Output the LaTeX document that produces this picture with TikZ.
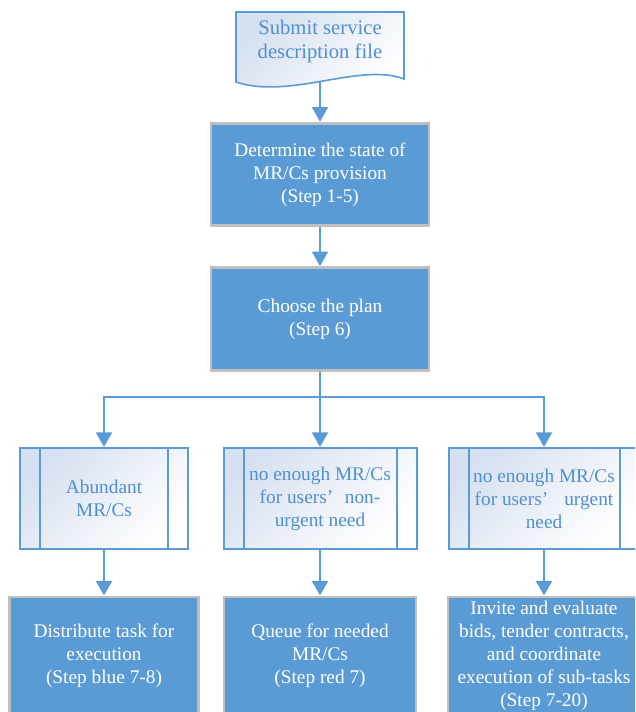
\documentclass[tikz,border=0pt]{standalone}
\usepackage{fontspec}
\setmainfont{Liberation Serif}
\usetikzlibrary{arrows.meta}
\definecolor{accent}{HTML}{5B9BD5}
\definecolor{edge}{HTML}{BFBFBF}
\definecolor{paleblue}{HTML}{D6E0F0}
\definecolor{inktext}{HTML}{4F8FCF}
\begin{document}
\begin{tikzpicture}[x=0.75pt, y=-0.75pt,
	txt/.style={font={\fontsize{14.5}{17.25}\selectfont}, align=center, inner sep=0pt},
	stepbox/.style={txt, shape=rectangle, draw=edge, line width=2.2pt, fill=accent, text=white, minimum height=77pt},
	casebox/.style={txt, shape=rectangle, draw=accent, line width=1.5pt, top color=paleblue, bottom color=white, shading angle=45, text=inktext, minimum height=75.75pt,
		path picture={\draw[accent, line width=1.5pt] ([xshift=15pt]path picture bounding box.north west) -- ([xshift=15pt]path picture bounding box.south west) ([xshift=-15pt]path picture bounding box.north east) -- ([xshift=-15pt]path picture bounding box.south east);}},
	wire/.style={accent, line width=1.5pt},
	flow/.style={wire, -{Triangle[width=12pt, length=11pt]}}]
	\useasboundingbox (0,0) rectangle (635,712);
	\clip (0,0) rectangle (635,712);
	% Paths, nodes and wires:
	\draw[accent, line width=1.2pt, top color=paleblue, bottom color=white, shading angle=45] (236,12) -- (404,12) -- (404,79) .. controls (360,62) and (290,100) .. (236,82) -- cycle;
	\node[txt, font={\fontsize{15.5}{18}\selectfont}, text=inktext] (doc) at (320,42) {Submit service\\description file};
	\coordinate (docout) at (320,81);
	\node[stepbox, minimum width=163.5pt] (state) at (320,174.5) {Determine the state of\\MR/Cs provision\\(Step 1-5)};
	\node[stepbox, minimum width=163.5pt] (plan) at (320,319) {Choose the plan\\(Step 6)};
	\coordinate (split) at (320,397);
	\node[casebox, minimum width=126pt] (abund) at (104,498.5) {Abundant\\MR/Cs};
	\node[casebox, minimum width=144.75pt] (calm) at (320,498.5) {no enough MR/Cs\\for users’\hspace{0.6em}non-\\urgent need};
	\node[casebox, minimum width=143.25pt] (rush) at (544,498.5) {no enough MR/Cs\\\makebox[104pt]{for users’\hfill urgent}\\need};
	\node[stepbox, minimum width=141.75pt, minimum height=88.5pt] (dist) at (104,656) {Distribute task for\\execution\\(Step blue 7-8)};
	\node[stepbox, minimum width=144pt, minimum height=88.5pt] (queue) at (320,656) {Queue for needed\\MR/Cs\\(Step red 7)};
	\node[stepbox, minimum width=144pt, minimum height=88.5pt] (bid) at (544,656) {Invite and evaluate\\bids, tender contracts,\\and coordinate\\execution of sub-tasks\\(Step 7-20)};
	\draw[flow] (docout) -- (state);
	\draw[flow] (state) -- (plan);
	\draw[wire] (plan) -- (split);
	\draw[flow] (split) -| (abund.north);
	\draw[flow] (split) -- (calm);
	\draw[flow] (split) -| (rush.north);
	\draw[flow] (abund) -- (dist);
	\draw[flow] (calm) -- (queue);
	\draw[flow] (rush) -- (bid);
\end{tikzpicture}
\end{document}
